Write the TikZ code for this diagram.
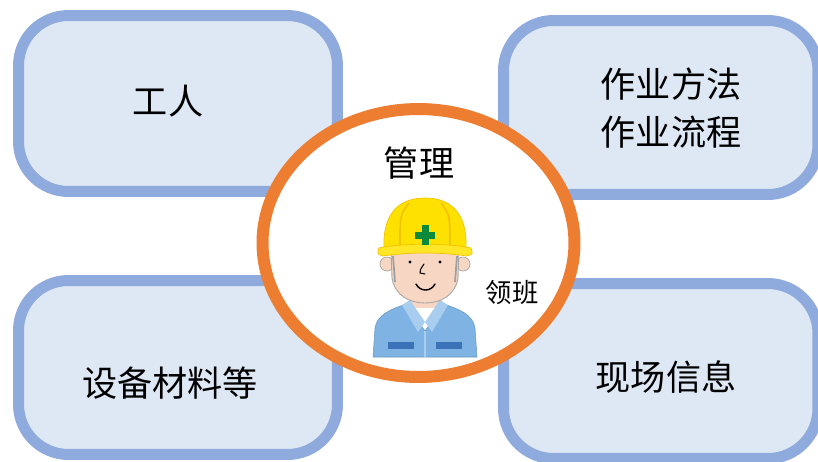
\documentclass[tikz,border=0pt]{standalone}
\usepackage{fontspec}
\newfontfamily\cjk{Noto Sans CJK SC}
\usepackage{tikz}
\usetikzlibrary{shapes,shapes.geometric,arrows}

\definecolor{boxfill}{HTML}{DEE8F5}
\definecolor{boxline}{HTML}{8FAADC}
\definecolor{ringline}{HTML}{ED7D31}
\definecolor{helmet}{HTML}{FFE100}
\definecolor{helmetdark}{HTML}{F0C400}
\definecolor{crossgreen}{HTML}{0B8A3C}
\definecolor{skin}{HTML}{F8D6C4}
\definecolor{jacket}{HTML}{7EB3E3}
\definecolor{jacketlight}{HTML}{A9CDEF}
\definecolor{pocket}{HTML}{3C72B8}

\tikzset{
  infobox/.style={draw=boxline, fill=boxfill, line width=0.22cm, rounded corners=1cm, inner sep=0pt},
  boxtext/.style={align=center, font=\cjk\fontsize{20pt}{27pt}\selectfont},
  leader/.style={ellipse, draw=ringline, fill=white, line width=0.24cm, inner sep=0pt},
  caption/.style={font=\cjk\fontsize{20pt}{24pt}\selectfont},
  smallcaption/.style={font=\cjk\fontsize{15pt}{18pt}\selectfont},
}

\begin{document}
\begin{tikzpicture}[x=0.02cm, y=-0.02cm]
  \useasboundingbox (0,0) rectangle (818,461);
  \fill[white] (0,0) rectangle (818,461);

  % boxes
  \node[infobox, minimum width=6.38cm, minimum height=3.52cm] (workers) at (178,103.5) {};
  \node[infobox, minimum width=6.29cm, minimum height=3.48cm] (methods) at (660.75,107.5) {};
  \node[infobox, minimum width=6.38cm, minimum height=3.48cm] (materials) at (178,367.5) {};
  \node[infobox, minimum width=6.29cm, minimum height=3.5cm] (site) at (660.75,371) {};

  % box texts
  \node[boxtext] (workerstext) at (168,101) {工人};
  \node[boxtext] (methodstext) at (671,108) {作业方法\\作业流程};
  \node[boxtext] (materialstext) at (170,383) {设备材料等};
  \node[boxtext] (sitetext) at (666,377) {现场信息};

  % centre
  \node[leader, minimum width=6.24cm, minimum height=5.36cm] (lead) at (418.5,243) {};
  \node[caption] (mgmt) at (419,163) {管理};
  \node[smallcaption] (foreman) at (512,293) {领班};

  % foreman figure: body
  \fill[skin] (409,290) rectangle (442,322);
  \fill[white] (406,308) -- (444,308) -- (425,334) -- cycle;
  \filldraw[fill=jacket, draw=jacket!85!black, line width=0.3pt]
    (373,357) -- (375,328) .. controls (377,314) and (392,309) .. (406,304)
    -- (425,331) -- (444,304) .. controls (458,309) and (473,314) .. (475,328)
    -- (477,357) -- cycle;
  \fill[jacketlight] (402,305) -- (410,300) -- (425,322) -- (418,332) -- cycle;
  \fill[jacketlight] (448,305) -- (440,300) -- (425,322) -- (432,332) -- cycle;
  \draw[jacketlight, line width=0.8pt] (425,331) -- (425,357);
  \fill[pocket] (388,342) rectangle (414,349);
  \fill[pocket] (436,342) rectangle (462,349);

  % head
  \filldraw[fill=skin, draw=gray!70, line width=0.4pt] (387,264) circle (7);
  \filldraw[fill=skin, draw=gray!70, line width=0.4pt] (463,264) circle (7);
  \filldraw[fill=skin, draw=gray!70, line width=0.5pt]
    (391,250) -- (392,278) .. controls (395,296) and (410,303) .. (425,303)
    .. controls (440,303) and (455,296) .. (458,278) -- (459,250) -- cycle;
  \draw[gray!75, line width=1pt] (393,256) -- (395,282);
  \draw[gray!75, line width=1pt] (457,256) -- (455,282);
  \fill (410,262) circle (1.6);
  \fill (440,262) circle (1.6);
  \draw[line width=0.6pt, line cap=round] (424,264) .. controls (420,270) .. (420,273) -- (425,274);
  \draw[line width=0.8pt, line cap=round] (416,284) .. controls (420,292) and (431,292) .. (435,284);

  % helmet
  \filldraw[fill=helmet, draw=helmetdark, line width=0.4pt]
    (384,250) .. controls (382,210) and (402,198) .. (425,198)
    .. controls (448,198) and (468,210) .. (466,250) -- cycle;
  \draw[helmetdark, line width=1pt] (409,203) .. controls (400,215) .. (400,247);
  \draw[helmetdark, line width=1pt] (441,203) .. controls (450,215) .. (450,247);
  \filldraw[fill=helmet!85!white, draw=helmetdark, line width=0.4pt]
    (379,248) .. controls (400,243) and (450,243) .. (471,248)
    .. controls (473,254) .. (467,256) .. controls (440,252) and (410,252) .. (383,256)
    .. controls (377,254) .. (379,248) -- cycle;
  \fill[crossgreen] (415,231.5) rectangle (435,238.5);
  \fill[crossgreen] (421.5,225) rectangle (428.5,245);
\end{tikzpicture}
\end{document}
